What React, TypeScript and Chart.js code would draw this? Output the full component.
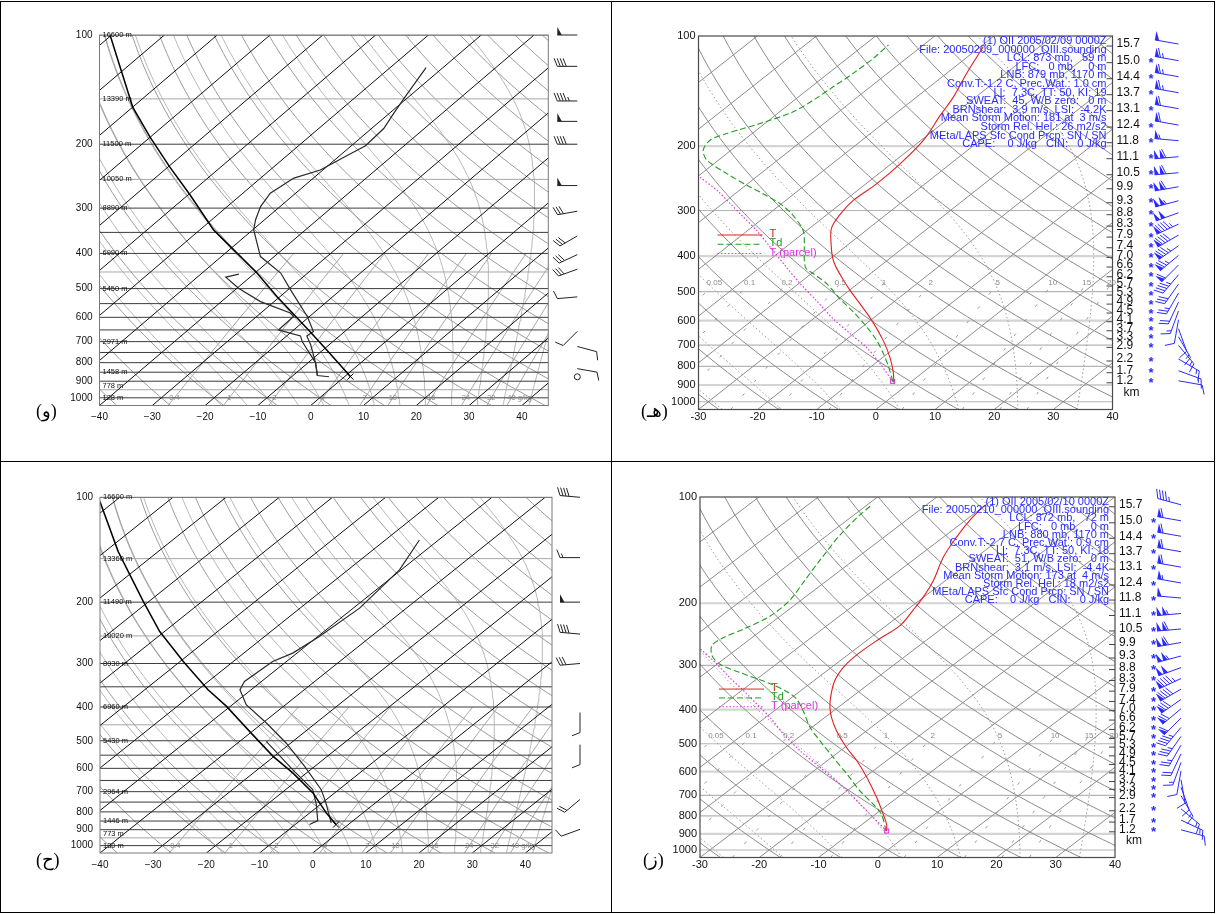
import React, { useEffect, useRef } from 'react';
import { Chart, registerables } from 'chart.js';

Chart.register(...registerables);

const FONT = "'Liberation Sans', Arial, Helvetica, sans-serif";

// ---------------- reference lines of the diagrams ----------------
const pressureTicks = [100, 200, 300, 400, 500, 600, 700, 800, 900, 1000];

const leftTempTicks = [-40, -30, -20, -10, 0, 10, 20, 30, 40];
const leftIsobars = [100, 150, 200, 250, 300, 350, 400, 450, 500, 550, 600, 650, 700, 750, 800, 850, 900, 950, 1000];
const leftLightIsobars = [150, 250, 450, 950];
const leftIsotherms = [-120, -110, -100, -90, -80, -70, -60, -50, -40, -30, -20, -10, 0, 10, 20, 30, 40];
const leftDryThetas = [-40, -30, -20, -10, 0, 10, 20, 30, 40, 50, 60, 70, 80, 90, 100, 110, 120, 130, 140, 150, 160, 170, 180, 190];
const leftMoistThetaW = [-20, -15, -10, -5, 0, 5, 10, 15, 20, 25, 30, 35, 40];
const leftMixRatios = [0.4, 1, 2, 4, 7, 10, 16, 24, 32, 40];
const leftMixLabels = ['0.4', '1', '2', '4', '7', '10', '16', '24', '32', '40 g/kg'];
const heightLevels = [100, 150, 200, 250, 300, 400, 500, 700, 850, 925, 1000];

const rightTempTicks = [-30, -20, -10, 0, 10, 20, 30, 40];
const rightIsobars = [200, 300, 400, 500, 600, 700, 800, 900, 1000];
const rightLightIsobars = [200, 400, 600, 900];
const rightIsotherms = [-110, -100, -90, -80, -70, -60, -50, -40, -30, -20, -10, 0, 10, 20, 30, 40];
const rightDryThetas = [-30, -20, -10, 0, 10, 20, 30, 40, 50, 60, 70, 80, 90, 100, 110, 120, 130, 140, 150, 160, 170, 180];
const rightMoistT1050 = [-26, -16, -6, 4, 14, 24, 34];
const rightMixRatios = [0.05, 0.1, 0.2, 0.5, 1, 2, 5, 10, 15, 20];
const rightMixLabels = ['0.05', '0.1', '0.2', '0.5', '1', '2', '5', '10', '15', '20'];
const kmLabels = ['15.7', '15.0', '14.4', '13.7', '13.1', '12.4', '11.8', '11.1', '10.5', '9.9', '9.3', '8.8', '8.3', '7.9', '7.4', '7.0', '6.6', '6.2', '5.7', '5.3', '4.9', '4.5', '4.1', '3.7', '3.3', '2.9', '2.2', '1.7', '1.2'];
const kmPressures = [105.2, 116.8, 129.2, 142.9, 158.0, 175.2, 193.3, 213.8, 236.5, 258.3, 282.1, 304.2, 326.8, 350.2, 374.5, 397.9, 422.9, 449.5, 476.6, 504.5, 534.0, 564.9, 596.8, 631.6, 664.2, 701.2, 764.1, 822.6, 876.4];

// ---------------- top-left (و) sounding ----------------
const tlTempP = [875, 868, 802, 714, 675, 657, 597, 504, 453, 408, 344.5, 323, 297, 273, 248, 235.5, 216, 202, 181, 164, 149, 123];
const tlTempC = [-2.9, -5.4, -8.5, -13.5, -16.2, -15.9, -20.4, -29.5, -35.1, -42.6, -49.8, -51.7, -53.7, -54.8, -53.7, -50.5, -48.7, -47.3, -47.7, -49.2, -50.6, -53.2];
const tlDewP = [868, 802, 700, 675, 650, 597, 584, 543, 499, 465, 456];
const tlDewC = [-5.4, -8.5, -15.8, -17.4, -22.9, -23.0, -24.4, -32.6, -39.7, -44.6, -42.8];
const tlParcelP = [874, 738, 650, 526, 453, 344.5, 276, 231, 191, 158, 100];
const tlParcelC = [1.1, -9.3, -17.2, -30.6, -39.6, -57.4, -69.6, -79.7, -90.1, -100, -120.3];
const tlHeights = ['16600 m', '13390 m', '11500 m', '10050 m', '8890 m', '6990 m', '5450 m', '2971 m', '1458 m', '778 m', '128 m'];
const tlWindP = [100, 122, 152, 173, 200, 260, 306, 358, 403, 442, 527, 656, 722, 831, 875];
const tlWindDir = [270, 270, 270, 270, 270, 270, 260, 240, 245, 250, 265, 225, 105, 100, 0];
const tlWindKt = [50, 40, 45, 50, 40, 50, 30, 30, 30, 30, 10, 10, 10, 10, 0];

// ---------------- bottom-left (ح) sounding ----------------
const blTempP = [860.5, 754, 690.8, 592.3, 507.4, 444.6, 394, 356.9, 337.9, 296.1, 280.1, 251, 208.1, 161.6, 132.6];
const blTempC = [-3.6, -9.3, -13.3, -21.9, -30.9, -39.3, -47.4, -52.1, -53.2, -52.6, -50.8, -49.7, -48.8, -50.3, -53.6];
const blDewP = [869.6, 847.2, 762.5, 690.8, 605, 502];
const blDewC = [-7.3, -6.7, -10.7, -14.9, -23.4, -35.0];
const blParcelP = [870.2, 805.4, 705.6, 618.4, 554.2, 469.9, 398.4, 356.9, 296.1, 242.8, 199.3, 143.2, 102.9];
const blParcelC = [-2.3, -6.9, -14.1, -22.6, -30.2, -40.5, -50.7, -58.1, -69.4, -80.9, -91.0, -107.5, -122.7];
const blHeights = ['16600 m', '13360 m', '11490 m', '10020 m', '8930 m', '6960 m', '5430 m', '2964 m', '1446 m', '773 m', '130 m'];
const blWindP = [100, 149, 200, 247, 300, 415, 513, 737, 898];
const blWindDir = [275, 270, 270, 275, 265, 180, 180, 230, 250];
const blWindKt = [40, 15, 50, 40, 30, 10, 10, 20, 10];

// ---------------- top-right (هـ) sounding ----------------
const trTempP = [885.2, 831.3, 756.1, 680.6, 600, 539.9, 496.6, 456.6, 410.9, 362.2, 333, 302.9, 281.4, 253.3, 223.3, 192.7, 164.6, 146.7, 126.5, 107];
const trTempC = [-2.8, -5.0, -8.8, -13.5, -19.7, -25.3, -29.8, -34.1, -39.1, -43.8, -46.5, -48.0, -48.6, -48.2, -48.5, -49.6, -52.1, -53.8, -56.6, -59.5];
const trDewP = [879.7, 857.9, 796.9, 740.2, 680.6, 625.8, 569.1, 523, 475.9, 446.8, 428.6, 362.2, 347.1, 333, 306, 287.3, 269.8, 256, 237.8, 218.7, 205.3, 192.7, 184.8, 173.5, 161.2, 149.7, 137.7, 126.5, 115.1, 105.8];
const trDewC = [-3.2, -4.2, -7.3, -10.6, -14.6, -19.1, -24.6, -29.8, -35.2, -39.6, -42.4, -48.3, -49.8, -51.6, -56.2, -60.3, -65.3, -69.8, -75.7, -81.9, -84.7, -85.7, -84.3, -80.8, -77.7, -76.8, -76.3, -75.8, -75.6, -75.9];
const trParcelP = [879.7, 787, 711.3, 651.2, 592.6, 528.8, 475, 424.1, 377.9, 340.1, 312.7, 287.3, 264.2, 241.8];
const trParcelC = [-3.2, -9.1, -14.8, -20.6, -26.7, -33.4, -39.8, -46.2, -52.6, -58.5, -63.6, -68.7, -73.8, -79.9];
const trStats = [
  '(1) OII 2005/02/09 0000Z',
  'File: 20050209_000000_OIII.sounding',
  'LCL: 873 mb,   59 m',
  'LFC:   0 mb,    0 m',
  'LNB: 879 mb, 1170 m',
  'Conv.T:-1.2 C, Prec.Wat.: 1.0 cm',
  'LI:  7.3C, TT: 50, KI: 19',
  'SWEAT:  45, W/B zero:   0 m',
  'BRNshear:  3.9 m/s, LSI:  -4.2K',
  'Mean Storm Motion: 181 at  3 m/s',
  'Storm Rel. Hel.: 26 m2/s2',
  'MEta/LAPS Sfc Cond Prcp: SN / SN',
  'CAPE:    0 J/kg   CIN:   0 J/kg',
];
const trWindDir = [280, 280, 280, 280, 280, 280, 275, 265, 265, 260, 255, 250, 245, 240, 235, 230, 225, 220, 215, 210, 205, 200, 190, 160, 150, 140, 120, 110, 100];
const trWindKt = [50, 65, 65, 65, 60, 60, 55, 110, 110, 110, 105, 100, 95, 90, 85, 75, 60, 45, 30, 25, 20, 15, 10, 10, 15, 15, 15, 15, 10];

// ---------------- bottom-right (ز) sounding ----------------
const brTempP = [883.1, 845.3, 791.7, 710.1, 623, 558.7, 512.2, 459.2, 420.9, 394.1, 369.3, 331.1, 300.1, 275.6, 251.6, 231, 209.4, 191.9, 172.1, 147.8, 129.7, 116.2, 105.4];
const brTempC = [-4.4, -5.9, -8.7, -13.5, -19.6, -25.0, -29.7, -35.1, -38.9, -41.4, -43.5, -46.5, -48.1, -48.5, -48.2, -47.7, -48.9, -50.1, -52.1, -55.6, -57.8, -59.3, -60.1];
const brDewP = [883.1, 791.7, 741.7, 680, 609.6, 546.8, 490, 449.2, 402.8, 373.2, 357.4, 337.6, 314.2, 298.1, 281.1, 263.4, 251.6, 235.6, 217.8, 196.1, 172.1, 151, 128.2, 112.5, 105.4];
const brDewC = [-4.5, -9.0, -12.6, -17.8, -23.7, -29.7, -35.7, -40.3, -45.2, -48.9, -51.8, -56.8, -64.3, -69.4, -72.8, -75.0, -74.9, -73.2, -71.7, -71.9, -73.8, -75.7, -77.9, -79.0, -79.2];
const brParcelP = [883.1, 809.4, 741.7, 650.7, 583.7, 523.3, 469.3, 420.9, 385.6, 353.4, 324.7, 294.2, 268.5];
const brParcelC = [-4.4, -9.6, -14.8, -22.7, -29.7, -36.8, -43.3, -49.3, -54.5, -59.7, -64.9, -70.7, -76.4];
const brStats = [
  '(1) OII 2005/02/10 0000Z',
  'File: 20050210_000000_OIII.sounding',
  'LCL: 872 mb,   72 m',
  'LFC:   0 mb,    0 m',
  'LNB: 880 mb, 1170 m',
  'Conv.T:-2.7 C, Prec.Wat.: 0.9 cm',
  'LI:  7.3C, TT: 50, KI: 18',
  'SWEAT:  51, W/B zero:   0 m',
  'BRNshear:  3.1 m/s, LSI:  -4.4K',
  'Mean Storm Motion: 173 at  4 m/s',
  'Storm Rel. Hel.: 18 m2/s2',
  'MEta/LAPS Sfc Cond Prcp: SN / SN',
  'CAPE:    0 J/kg   CIN:   0 J/kg',
];
const brWindDir = [285, 280, 280, 280, 280, 280, 275, 265, 265, 260, 255, 250, 245, 240, 235, 230, 225, 220, 215, 210, 205, 200, 190, 170, 160, 150, 130, 115, 105];
const brWindKt = [45, 60, 60, 60, 60, 55, 50, 105, 110, 110, 105, 100, 95, 90, 80, 70, 60, 45, 35, 25, 20, 15, 10, 10, 10, 15, 15, 15, 10];

// ---------------- thermodynamics helpers ----------------
const P_REF = 1050;
const skewX = (t: number, p: number, K: number) => t + K * Math.log(P_REF / p);
const logSpace = (p0: number, p1: number, n: number) => {
  const out: number[] = [];
  for (let i = 0; i <= n; i++) out.push(Math.exp(Math.log(p0) + (Math.log(p1) - Math.log(p0)) * (i / n)));
  return out;
};
const satVap = (tc: number) => 6.112 * Math.exp((17.67 * tc) / (tc + 243.5));
const dewFromMix = (wgkg: number, p: number) => {
  const w = wgkg / 1000;
  const e = (w * p) / (0.622 + w);
  const l = Math.log(e / 6.112);
  return (243.5 * l) / (17.67 - l);
};
const moistRate = (tk: number, p: number) => {
  const es = satVap(tk - 273.15);
  const rs = (0.622 * es) / Math.max(p - es, 1);
  const Rd = 287.04, Cp = 1005.7, Lv = 2.501e6;
  return (Rd * tk + Lv * rs) / (Cp + (Lv * Lv * rs * 0.622) / (Rd * tk * tk));
};
const moistPath = (t0: number, p0: number, p1: number, n: number) => {
  const pts: { p: number; t: number }[] = [{ p: p0, t: t0 }];
  let tk = t0 + 273.15;
  let lp = Math.log(p0);
  const dl = (Math.log(p1) - lp) / n;
  for (let i = 0; i < n; i++) {
    const k1 = moistRate(tk, Math.exp(lp));
    const k2 = moistRate(tk + k1 * dl, Math.exp(lp + dl));
    tk += ((k1 + k2) / 2) * dl;
    lp += dl;
    pts.push({ p: Math.exp(lp), t: tk - 273.15 });
  }
  return pts;
};

type Pt = { x: number; y: number };
const ds = (points: Pt[], color: string, width: number, extra: any = {}) => ({
  data: points,
  borderColor: color,
  backgroundColor: color,
  borderWidth: width,
  pointRadius: 0,
  pointHoverRadius: 0,
  showLine: true,
  fill: false,
  tension: 0,
  clip: 0,
  order: 10,
  ...extra,
});

const profile = (p: number[], t: number[], K: number, color: string, width: number, extra: any = {}) =>
  ds(p.map((pp, i) => ({ x: skewX(t[i], pp, K), y: pp })), color, width, { order: 0, ...extra });

function leftBackground(K: number, xMin: number, xMax: number, mixTop: number) {
  const sets: any[] = [];
  leftIsobars.forEach((p) => {
    const light = leftLightIsobars.includes(p);
    sets.push(ds([{ x: xMin, y: p }, { x: xMax, y: p }], light ? '#a6a6a6' : '#3c3c3c', 1, { order: light ? 9 : 6 }));
  });
  leftIsotherms.forEach((t) => {
    sets.push(ds([{ x: skewX(t, 1050, K), y: 1050 }, { x: skewX(t, 100, K), y: 100 }], '#111', 1, { order: 5 }));
  });
  leftDryThetas.forEach((th) => {
    const pts = logSpace(1050, 100, 40).map((p) => ({ x: skewX((th + 273.15) * Math.pow(p / 1000, 0.2857) - 273.15, p, K), y: p }));
    sets.push(ds(pts, '#9c9c9c', 1));
  });
  leftMoistThetaW.forEach((tw) => {
    const up = moistPath(tw, 1000, 100, 80);
    const down = moistPath(tw, 1000, 1050, 4).reverse();
    const pts = down.concat(up.slice(1)).map((q) => ({ x: skewX(q.t, q.p, K), y: q.p }));
    sets.push(ds(pts, '#b8b8b8', 1));
  });
  leftMixRatios.forEach((w) => {
    const pts = logSpace(1050, mixTop, 12).map((p) => ({ x: skewX(dewFromMix(w, p), p, K), y: p }));
    sets.push(ds(pts, '#a8a8a8', 1));
  });
  return sets;
}

function rightBackground(K: number, xMin: number, xMax: number) {
  const sets: any[] = [];
  rightIsobars.forEach((p) => {
    const light = rightLightIsobars.includes(p);
    sets.push(ds([{ x: xMin, y: p }, { x: xMax, y: p }], light ? '#d4d4d4' : '#b4b4b4', light ? 2.2 : 1.2, { order: 12 }));
  });
  rightIsotherms.forEach((t) => {
    sets.push(ds([{ x: skewX(t, 1050, K), y: 1050 }, { x: skewX(t, 100, K), y: 100 }], '#8c8c8c', 1, { order: 8 }));
  });
  rightDryThetas.forEach((th) => {
    const pts = logSpace(1050, 100, 40).map((p) => ({ x: skewX((th + 273.15) * Math.pow(p / 1000, 0.2857) - 273.15, p, K), y: p }));
    sets.push(ds(pts, '#8c8c8c', 1, { order: 8 }));
  });
  rightMoistT1050.forEach((t0) => {
    const pts = moistPath(t0, 1050, 100, 80).map((q) => ({ x: skewX(q.t, q.p, K), y: q.p }));
    sets.push(ds(pts, '#9a9a9a', 1, { borderDash: [1.5, 2.5], order: 9 }));
  });
  rightMixRatios.forEach((w) => {
    const pts = logSpace(1050, 474, 10).map((p) => ({ x: skewX(dewFromMix(w, p), p, K), y: p }));
    sets.push(ds(pts, '#9a9a9a', 1, { borderDash: [3, 15], order: 9 }));
  });
  return sets;
}

// ---------------- drawing helpers ----------------
function drawBarb(ctx: CanvasRenderingContext2D, x: number, y: number, dir: number, kt: number, len: number, bl: number, gap: number, color: string) {
  ctx.save();
  ctx.strokeStyle = color;
  ctx.fillStyle = color;
  ctx.lineWidth = 1;
  if (kt < 3) {
    ctx.beginPath();
    ctx.arc(x, y, 3, 0, Math.PI * 2);
    ctx.stroke();
    ctx.restore();
    return;
  }
  const a = (dir * Math.PI) / 180;
  const ux = Math.sin(a), uy = -Math.cos(a);
  const px = -uy, py = ux;
  const tx = x + ux * len, ty = y + uy * len;
  ctx.beginPath();
  ctx.moveTo(x, y);
  ctx.lineTo(tx, ty);
  ctx.stroke();
  let s = Math.round(kt / 5) * 5;
  let d = 0;
  while (s >= 50) {
    const bx = tx - ux * d, by = ty - uy * d;
    const ex = tx - ux * (d + gap * 1.5), ey = ty - uy * (d + gap * 1.5);
    ctx.beginPath();
    ctx.moveTo(bx, by);
    ctx.lineTo(bx + px * bl, by + py * bl);
    ctx.lineTo(ex, ey);
    ctx.closePath();
    ctx.fill();
    d += gap * 1.9;
    s -= 50;
  }
  while (s >= 10) {
    const bx = tx - ux * d, by = ty - uy * d;
    ctx.beginPath();
    ctx.moveTo(bx, by);
    ctx.lineTo(bx + px * bl + ux * bl * 0.4, by + py * bl + uy * bl * 0.4);
    ctx.stroke();
    d += gap;
    s -= 10;
  }
  if (s >= 5) {
    if (d === 0) d = gap;
    const bx = tx - ux * d, by = ty - uy * d;
    ctx.beginPath();
    ctx.moveTo(bx, by);
    ctx.lineTo(bx + px * bl * 0.5 + ux * bl * 0.2, by + py * bl * 0.5 + uy * bl * 0.2);
    ctx.stroke();
  }
  ctx.restore();
}

type PanelCfg = {
  canvas: { left: number; top: number; width: number; height: number };
  area: { left: number; top: number; right: number; bottom: number };
  xMin: number;
  xMax: number;
  K: number;
  kind: 'left' | 'right';
  xTicks: number[];
  fontSize: number;
  xPad: number;
  yPad: number;
  minus: string;
  datasets: any[];
  overlay: (chart: any) => void;
};

const Y_W = 40;
const X_H = 20;

function buildConfig(cfg: PanelCfg): any {
  const { area, canvas } = cfg;
  return {
    type: 'scatter',
    data: { datasets: cfg.datasets },
    options: {
      responsive: false,
      animation: false,
      events: [],
      layout: {
        padding: {
          left: area.left - Y_W,
          top: area.top,
          right: canvas.width - area.right,
          bottom: canvas.height - area.bottom - X_H,
        },
      },
      plugins: { legend: { display: false }, tooltip: { enabled: false } },
      scales: {
        x: {
          type: 'linear',
          min: cfg.xMin,
          max: cfg.xMax,
          grid: { display: false, drawTicks: false },
          border: { display: false },
          afterBuildTicks: (ax: any) => {
            ax.ticks = cfg.xTicks.map((v) => ({ value: v }));
          },
          afterFit: (ax: any) => {
            ax.height = X_H;
          },
          ticks: {
            autoSkip: false,
            maxRotation: 0,
            minRotation: 0,
            padding: cfg.xPad,
            color: '#111',
            font: { family: FONT, size: cfg.fontSize },
            callback: (v: number) => (v < 0 ? cfg.minus + Math.abs(v) : String(v)),
          },
        },
        y: {
          type: 'logarithmic',
          reverse: true,
          min: 100,
          max: 1050,
          grid: { display: false, drawTicks: false },
          border: { display: false },
          afterBuildTicks: (ax: any) => {
            ax.ticks = pressureTicks.map((v) => ({ value: v }));
          },
          afterFit: (ax: any) => {
            ax.width = Y_W;
          },
          ticks: {
            autoSkip: false,
            padding: cfg.yPad,
            color: '#111',
            font: { family: FONT, size: cfg.fontSize },
            callback: (v: number) => String(v),
          },
        },
      },
    },
    plugins: [
      {
        id: 'overlay',
        afterDatasetsDraw: (chart: any) => cfg.overlay(chart),
      },
    ],
  };
}

function leftOverlay(K: number, heights: string[], windP: number[], windDir: number[], windKt: number[], parcelP: number[], parcelC: number[], stationDx: number) {
  return (chart: any) => {
    const ctx: CanvasRenderingContext2D = chart.ctx;
    const xs = chart.scales.x, ys = chart.scales.y, ca = chart.chartArea;
    ctx.save();
    ctx.strokeStyle = '#7a7a7a';
    ctx.lineWidth = 1;
    ctx.strokeRect(ca.left, ca.top, ca.right - ca.left, ca.bottom - ca.top);
    ctx.fillStyle = '#111';
    ctx.font = `7.5px ${FONT}`;
    ctx.textBaseline = 'middle';
    ctx.textAlign = 'left';
    heightLevels.forEach((p, i) => ctx.fillText(heights[i], ca.left + 3, ys.getPixelForValue(p)));
    ctx.fillStyle = '#8a8a8a';
    ctx.textAlign = 'center';
    leftMixRatios.forEach((w, i) => {
      const x = xs.getPixelForValue(skewX(dewFromMix(w, 1000), 1000, K));
      ctx.textAlign = i === leftMixRatios.length - 1 ? 'left' : 'center';
      ctx.fillText(leftMixLabels[i], i === leftMixRatios.length - 1 ? x - 4 : x, ys.getPixelForValue(1000));
    });
    const sx = xs.getPixelForValue(skewX(parcelC[0], parcelP[0], K));
    const sy = ys.getPixelForValue(parcelP[0]);
    ctx.strokeStyle = '#000';
    ctx.beginPath();
    ctx.moveTo(sx - 3, sy - 3);
    ctx.lineTo(sx + 3, sy + 3);
    ctx.moveTo(sx - 3, sy + 3);
    ctx.lineTo(sx + 3, sy - 3);
    ctx.stroke();
    windP.forEach((p, i) => drawBarb(ctx, ca.right + stationDx, ys.getPixelForValue(p), windDir[i], windKt[i], 20, 8, 3, '#222'));
    ctx.restore();
  };
}

function rightOverlay(K: number, stats: string[], lineGap: number, windDir: number[], windKt: number[], parcelP: number[], parcelC: number[]) {
  return (chart: any) => {
    const ctx: CanvasRenderingContext2D = chart.ctx;
    const xs = chart.scales.x, ys = chart.scales.y, ca = chart.chartArea;
    const blue = '#2a2aff';
    ctx.save();
    ctx.strokeStyle = '#4a4a4a';
    ctx.lineWidth = 1.2;
    ctx.strokeRect(ca.left, ca.top, ca.right - ca.left, ca.bottom - ca.top);
    ctx.fillStyle = '#8c8c8c';
    ctx.font = `8px ${FONT}`;
    ctx.textAlign = 'center';
    ctx.textBaseline = 'middle';
    rightMixRatios.forEach((w, i) => {
      ctx.fillText(rightMixLabels[i], xs.getPixelForValue(skewX(dewFromMix(w, 474), 474, K)), ys.getPixelForValue(474));
    });
    ctx.fillStyle = blue;
    ctx.font = `11px ${FONT}`;
    ctx.textAlign = 'right';
    stats.forEach((s, i) => ctx.fillText(s, ca.right - 6, ca.top + 5 + i * lineGap));
    const ly = ys.getPixelForValue(350);
    const legend = [
      { t: 'T', c: '#e02020', d: [] as number[] },
      { t: 'Td', c: '#1f9d1f', d: [6, 3] },
      { t: 'T (parcel)', c: '#e030e0', d: [1.5, 2] },
    ];
    ctx.textAlign = 'left';
    ctx.font = `11px ${FONT}`;
    legend.forEach((l, i) => {
      const y = ly + i * lineGap * 1.08;
      ctx.strokeStyle = l.c;
      ctx.lineWidth = 1;
      ctx.setLineDash(l.d);
      ctx.beginPath();
      ctx.moveTo(ca.left + 19, y);
      ctx.lineTo(ca.left + 64, y);
      ctx.stroke();
      ctx.setLineDash([]);
      ctx.fillStyle = l.c;
      ctx.fillText(l.t, ca.left + 71, y - 1);
    });
    const sx = xs.getPixelForValue(skewX(parcelC[0], parcelP[0], K));
    const sy = ys.getPixelForValue(parcelP[0]);
    ctx.strokeStyle = '#e030e0';
    ctx.strokeRect(sx - 2, sy - 2, 4, 4);
    ctx.fillStyle = '#111';
    ctx.strokeStyle = '#444';
    ctx.lineWidth = 1;
    ctx.font = `12px ${FONT}`;
    ctx.textBaseline = 'middle';
    kmPressures.forEach((p, i) => {
      const y = ys.getPixelForValue(p);
      ctx.beginPath();
      ctx.moveTo(ca.right - 6, y + 2);
      ctx.lineTo(ca.right, y + 2);
      ctx.stroke();
      ctx.fillText(kmLabels[i], ca.right + 4, y);
    });
    ctx.fillText('km', ca.right + 11, ys.getPixelForValue(942));
    ctx.fillStyle = blue;
    ctx.font = `bold 13px ${FONT}`;
    ctx.textAlign = 'center';
    kmPressures.forEach((p, i) => {
      const y = ys.getPixelForValue(p);
      if (i > 0) ctx.fillText('*', ca.right + 38.5, y + 3);
      drawBarb(ctx, ca.right + 66, y, windDir[i], windKt[i], 24, 9, 3, blue);
    });
    ctx.restore();
  };
}

// ---------------- panels ----------------
const LEFT_K_TOP = 35.0;
const LEFT_K_BOT = 35.6;
const RIGHT_K = 34;

const panels: PanelCfg[] = [
  {
    canvas: { left: 0, top: 0, width: 610, height: 460 },
    area: { left: 99.5, top: 35, right: 548.3, bottom: 405.5 },
    xMin: -40, xMax: 45, K: LEFT_K_TOP, kind: 'left', xTicks: leftTempTicks, fontSize: 10, xPad: 6, yPad: 7, minus: '\u2212',
    datasets: [
      profile(tlParcelP, tlParcelC, LEFT_K_TOP, '#000', 1.5),
      profile(tlTempP, tlTempC, LEFT_K_TOP, '#2a2a2a', 1.2),
      profile(tlDewP, tlDewC, LEFT_K_TOP, '#2a2a2a', 1.2),
      ...leftBackground(LEFT_K_TOP, -40, 45, 400),
    ],
    overlay: leftOverlay(LEFT_K_TOP, tlHeights, tlWindP, tlWindDir, tlWindKt, tlParcelP, tlParcelC, 29),
  },
  {
    canvas: { left: 612, top: 0, width: 602, height: 460 },
    area: { left: 86.5, top: 36, right: 500.5, bottom: 409.5 },
    xMin: -30, xMax: 40, K: RIGHT_K, kind: 'right', xTicks: rightTempTicks, fontSize: 11, xPad: 1, yPad: 3, minus: '-',
    datasets: [
      profile(trTempP, trTempC, RIGHT_K, '#e02020', 1.1, { tension: 0.35 }),
      profile(trDewP, trDewC, RIGHT_K, '#1f9d1f', 1.1, { tension: 0.3, borderDash: [6, 3] }),
      profile(trParcelP, trParcelC, RIGHT_K, '#e030e0', 1.2, { tension: 0.3, borderDash: [1.5, 2] }),
      ...rightBackground(RIGHT_K, -30, 40),
    ],
    overlay: rightOverlay(RIGHT_K, trStats, 8.6, trWindDir, trWindKt, trParcelP, trParcelC),
  },
  {
    canvas: { left: 0, top: 462, width: 610, height: 450 },
    area: { left: 100, top: 35.3, right: 552, bottom: 391 },
    xMin: -40, xMax: 45, K: LEFT_K_BOT, kind: 'left', xTicks: leftTempTicks, fontSize: 10, xPad: 6, yPad: 7, minus: '\u2212',
    datasets: [
      profile(blParcelP, blParcelC, LEFT_K_BOT, '#000', 1.5),
      profile(blTempP, blTempC, LEFT_K_BOT, '#2a2a2a', 1.2),
      profile(blDewP, blDewC, LEFT_K_BOT, '#2a2a2a', 1.2),
      ...leftBackground(LEFT_K_BOT, -40, 45, 400),
    ],
    overlay: leftOverlay(LEFT_K_BOT, blHeights, blWindP, blWindDir, blWindKt, blParcelP, blParcelC, 28),
  },
  {
    canvas: { left: 612, top: 462, width: 602, height: 450 },
    area: { left: 88, top: 35, right: 503, bottom: 395.5 },
    xMin: -30, xMax: 40, K: RIGHT_K, kind: 'right', xTicks: rightTempTicks, fontSize: 11, xPad: 1, yPad: 3, minus: '-',
    datasets: [
      profile(brTempP, brTempC, RIGHT_K, '#e02020', 1.1, { tension: 0.35 }),
      profile(brDewP, brDewC, RIGHT_K, '#1f9d1f', 1.1, { tension: 0.3, borderDash: [6, 3] }),
      profile(brParcelP, brParcelC, RIGHT_K, '#e030e0', 1.2, { tension: 0.3, borderDash: [1.5, 2] }),
      ...rightBackground(RIGHT_K, -30, 40),
    ],
    overlay: rightOverlay(RIGHT_K, brStats, 8.2, brWindDir, brWindKt, brParcelP, brParcelC),
  },
];

const panelLabels = [
  { text: '(و)', left: 36, top: 400 },
  { text: '(هـ)', left: 641, top: 400 },
  { text: '(ح)', left: 36, top: 849 },
  { text: '(ز)', left: 643, top: 849 },
];

function SkewPanel({ cfg }: { cfg: PanelCfg }) {
  const ref = useRef<HTMLCanvasElement | null>(null);
  useEffect(() => {
    if (!ref.current) return;
    const chart = new Chart(ref.current, buildConfig(cfg));
    return () => chart.destroy();
  }, [cfg]);
  return (
    <canvas
      ref={ref}
      width={cfg.canvas.width}
      height={cfg.canvas.height}
      style={{ position: 'absolute', left: cfg.canvas.left, top: cfg.canvas.top, width: cfg.canvas.width, height: cfg.canvas.height }}
    />
  );
}

const line = (left: number, top: number, width: number, height: number) => (
  <div style={{ position: 'absolute', left, top, width, height, background: '#000' }} />
);

export default function App() {
  return (
    <div style={{ position: 'absolute', left: 0, top: 0, width: 1216, height: 914, background: '#fff', overflow: 'hidden' }}>
      {panels.map((p, i) => (
        <SkewPanel key={i} cfg={p} />
      ))}
      {panelLabels.map((l, i) => (
        <div
          key={'l' + i}
          dir="rtl"
          style={{ position: 'absolute', left: l.left, top: l.top, fontFamily: "'Liberation Serif', 'DejaVu Sans', serif", fontSize: 18, lineHeight: '22px', color: '#000', whiteSpace: 'nowrap' }}
        >
          {l.text}
        </div>
      ))}
      {line(0, 1, 1215, 1)}
      {line(0, 912, 1215, 1)}
      {line(0, 1, 1, 912)}
      {line(1214, 1, 1, 912)}
      {line(611, 1, 1, 912)}
      {line(0, 461, 1215, 1)}
    </div>
  );
}
